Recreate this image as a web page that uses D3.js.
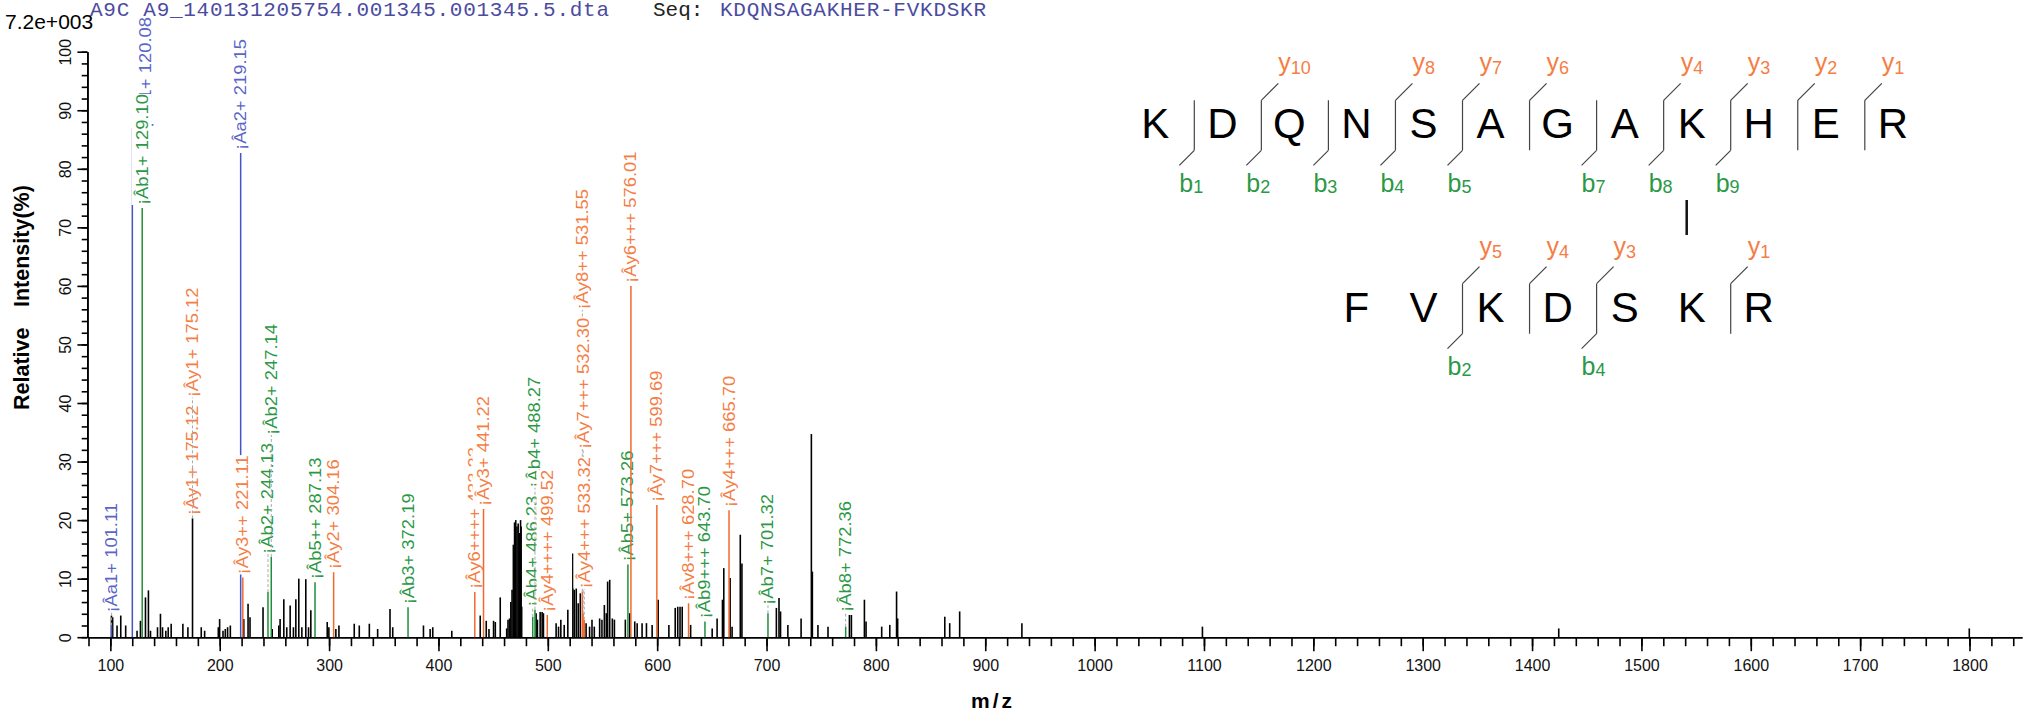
<!DOCTYPE html>
<html>
<head>
<meta charset="utf-8">
<script src="https://cdn.jsdelivr.net/npm/d3@7"></script>
<style>
  body { margin: 0; background: #fff; }
  svg { display: block; }
</style>
</head>
<body>
<div id="viz"></div>
<script>
// unmatched (black) peaks: m/z and relative intensity (%)
const peakMz = [101.0, 102.1, 106.1, 109.5, 114.0, 124.4, 127.5, 132.1, 134.8, 136.7,
  143.1, 145.8, 147.7, 150.7, 152.9, 155.6, 166.3, 170.9, 175.12, 183.1,
  186.2, 198.7, 199.9, 203.0, 205.1, 207.2, 209.7, 222.0, 225.9, 227.7,
  239.6, 248.0, 254.0, 255.2, 258.6, 261.3, 264.4, 267.4, 269.6, 272.3,
  275.1, 278.7, 281.2, 283.3, 298.3, 299.8, 306.2, 309.0, 323.0, 327.6,
  336.8, 344.4, 355.7, 358.2, 386.3, 392.4, 394.8, 412.2, 438.2, 443.7,
  446.2, 450.4, 452.0, 456.5, 462.4, 463.6, 465.0, 466.2, 467.3, 468.5,
  469.6, 470.7, 471.8, 472.9, 474.0, 475.1, 476.1, 489.3, 490.5, 493.0,
  494.8, 496.0, 507.6, 509.8, 511.9, 515.0, 518.3, 522.9, 524.2, 526.0,
  527.8, 529.7, 535.0, 538.2, 540.4, 542.5, 547.4, 549.5, 551.7, 553.5,
  554.7, 556.6, 559.0, 560.9, 570.9, 574.9, 579.5, 581.7, 586.2, 590.2,
  595.4, 600.9, 610.7, 616.5, 618.8, 620.9, 622.9, 630.6, 650.3, 654.8,
  659.7, 660.9, 666.7, 668.5, 676.0, 677.5, 709.0, 711.4, 712.8, 719.5,
  731.6, 741.0, 741.9, 747.0, 756.2, 775.8, 777.6, 789.5, 791.0, 805.3,
  812.7, 818.9, 819.9, 863.0, 867.5, 876.6, 933.5, 1098.6, 1424.4, 1799.8];
const peakInt = [3.7, 3.4, 2.0, 3.7, 2.0, 1.1, 2.8, 6.8, 8.0, 1.1,
  1.7, 4.0, 1.7, 1.1, 1.7, 2.3, 2.3, 1.7, 20.3, 1.7,
  1.1, 1.7, 3.1, 1.1, 1.4, 1.7, 2.0, 3.1, 5.7, 3.4,
  5.1, 1.4, 2.0, 3.1, 6.5, 1.7, 5.4, 1.7, 6.5, 10.0,
  1.7, 10.0, 1.7, 4.6, 2.6, 1.7, 1.4, 2.0, 2.3, 2.0,
  2.3, 1.4, 4.8, 1.7, 2.0, 1.4, 1.7, 1.1, 3.7, 2.8,
  1.4, 2.8, 2.6, 6.8, 1.5, 3.0, 3.2, 6.0, 8.1, 15.8,
  19.6, 20.0, 18.9, 19.4, 17.8, 20.0, 18.9, 4.1, 3.0, 4.4,
  4.4, 4.1, 2.4, 1.8, 3.0, 2.1, 4.7, 14.3, 8.1, 8.4,
  5.8, 7.5, 2.4, 1.8, 3.0, 1.8, 3.2, 3.0, 5.5, 4.1,
  9.5, 9.8, 3.2, 3.0, 3.0, 4.1, 2.7, 2.4, 2.4, 2.4,
  2.1, 6.4, 2.1, 5.0, 5.2, 5.2, 5.2, 2.1, 1.5, 3.2,
  6.4, 11.8, 10.1, 1.8, 17.5, 12.6, 5.0, 6.7, 4.4, 2.1,
  3.2, 34.7, 11.2, 2.1, 1.8, 3.8, 3.8, 6.4, 2.7, 1.8,
  2.1, 7.8, 3.2, 3.5, 2.4, 4.4, 2.4, 1.8, 1.5, 1.5];

// matched fragment ions
const ionMz = [101.11, 120.08, 129.10, 175.12, 175.12, 219.15, 221.11, 244.13, 247.14, 287.13,
  304.16, 372.19, 433.23, 441.22, 486.23, 488.27, 499.52, 531.55, 532.30, 533.32,
  573.26, 576.01, 599.69, 628.70, 643.70, 665.70, 701.32, 772.36];
const ionInt = [2.0, 100, 73.3, 20.3, 20.3, 82.7, 10.2, 7.7, 13.7, 9.4,
  11.1, 5.1, 7.7, 21.9, 3.5, 4.7, 3.8, 7.8, 4.1, 3.0,
  12.4, 60.0, 22.6, 5.8, 2.7, 21.7, 4.1, 1.8];
const ionType = ['a', 'a', 'b', 'y', 'y', 'a', 'y', 'b', 'b', 'b',
  'y', 'b', 'y', 'y', 'b', 'b', 'y', 'y', 'y', 'y',
  'b', 'y', 'y', 'y', 'b', 'y', 'b', 'b'];
const ionLabel = ['¡Âa1+ 101.11', '¡Âa1+ 120.08', '¡Âb1+ 129.10', '¡Ây1+ 175.12', '¡Ây1+ 175.12',
  '¡Âa2+ 219.15', '¡Ây3++ 221.11', '¡Âb2+ 244.13', '¡Âb2+ 247.14', '¡Âb5++ 287.13',
  '¡Ây2+ 304.16', '¡Âb3+ 372.19', '¡Ây6++++ 433.23', '¡Ây3+ 441.22', '¡Âb4+ 486.23',
  '¡Âb4+ 488.27', '¡Ây4++++ 499.52', '¡Ây8++ 531.55', '¡Ây7+++ 532.30', '¡Ây4+++ 533.32',
  '¡Âb5+ 573.26', '¡Ây6+++ 576.01', '¡Ây7+++ 599.69', '¡Ây8+++ 628.70', '¡Âb9+++ 643.70',
  '¡Ây4+++ 665.70', '¡Âb7+ 701.32', '¡Âb8+ 772.36'];

const xMajor = d3.range(100, 1801, 100);
const xMinor = d3.range(80, 1841, 20);
const yMajor = d3.range(0, 101, 10);
const yMinor = d3.range(0, 101, 2);

// peptide pair
const topSeq = 'KDQNSAGAKHER';
const bottomSeq = 'FVKDSKR';
const topB = [1, 2, 3, 4, 5, 7, 8, 9];
const topY = [10, 8, 7, 6, 4, 3, 2, 1];
const bottomB = [2, 4];
const bottomY = [5, 4, 3, 1];
const linkTop = 9, linkBottom = 6;

const fileName = 'A9C A9_140131205754.001345.001345.5.dta';
const seqText = 'KDQNSAGAKHER-FVKDSKR';
const baseIntensity = '7.2e+003';

const lineColor = { a: '#4455c4', b: '#1f8f3a', y: '#f2692e' };
const textColor = { a: '#5a66c8', b: '#2c9846', y: '#f47e45' };

function drawChart() {
  const width = 2024, height = 714;
  const svg = d3.select('#viz').append('svg')
    .attr('width', width)
    .attr('height', height)
    .style('font-family', 'Arial, "Liberation Sans", sans-serif');

  const x = d3.scaleLinear().domain([79, 1848]).range([87.4, 2022]);
  const y = d3.scaleLinear().domain([0, 100]).range([637.2, 51.7]);

  // header
  const mono = '"Liberation Mono", "Courier New", monospace';
  svg.append('text').attr('x', 90).attr('y', 16)
    .attr('textLength', 519).attr('lengthAdjust', 'spacing')
    .style('font-family', mono).style('font-size', '21px')
    .attr('fill', '#4b4ba0').text(fileName);
  svg.append('text').attr('x', 653).attr('y', 16)
    .style('font-family', mono).style('font-size', '21px')
    .attr('fill', '#222').text('Seq:');
  svg.append('text').attr('x', 720).attr('y', 16)
    .attr('textLength', 266).attr('lengthAdjust', 'spacing')
    .style('font-family', mono).style('font-size', '21px')
    .attr('fill', '#4b4ba0').text(seqText);
  svg.append('text').attr('x', 5).attr('y', 29).style('font-size', '21px').text(baseIntensity);

  // axes
  const xAxisMinor = svg.append('g').attr('transform', `translate(0,${y(0)})`)
    .call(d3.axisBottom(x).tickValues(xMinor).tickSize(9).tickSizeOuter(0).tickFormat(''));
  const xAxis = svg.append('g').attr('transform', `translate(0,${y(0)})`)
    .call(d3.axisBottom(x).tickValues(xMajor).tickSize(14).tickSizeOuter(0).tickFormat(d3.format('d')));
  xAxis.selectAll('text').attr('y', 33.5).attr('dy', 0)
    .style('font-size', '16px').style('font-family', 'Arial, "Liberation Sans", sans-serif').attr('fill', '#111');

  const yAxisMinor = svg.append('g').attr('transform', `translate(${x(79)},0)`)
    .call(d3.axisLeft(y).tickValues(yMinor).tickSize(5.7).tickSizeOuter(0).tickFormat(''));
  const yAxis = svg.append('g').attr('transform', `translate(${x(79)},0)`)
    .call(d3.axisLeft(y).tickValues(yMajor).tickSize(10).tickSizeOuter(0));
  yAxis.selectAll('text')
    .attr('transform', 'rotate(-90)')
    .attr('x', 0).attr('y', -16.2).attr('dy', 0)
    .attr('text-anchor', 'middle')
    .style('font-size', '16px').style('font-family', 'Arial, "Liberation Sans", sans-serif').attr('fill', '#111');

  [xAxisMinor, xAxis, yAxisMinor, yAxis].forEach(g => {
    g.selectAll('path, line').attr('stroke', '#000').attr('stroke-width', 1.6);
  });

  svg.append('text').attr('transform', 'translate(28.5,410) rotate(-90)')
    .style('font-size', '21.5px').style('font-weight', 'bold').text('Relative');
  svg.append('text').attr('transform', 'translate(28.5,307) rotate(-90)')
    .style('font-size', '21.5px').style('font-weight', 'bold').text('Intensity(%)');
  svg.append('text').attr('x', 993).attr('y', 708).attr('text-anchor', 'middle')
    .style('font-size', '21px').style('font-weight', 'bold').style('letter-spacing', '3px').text('m/z');

  // black peaks
  const peaks = peakMz.map((m, i) => ({ mz: m, v: peakInt[i] }));
  svg.append('g').selectAll('line')
    .data(peaks)
    .enter().append('line')
      .attr('x1', d => x(d.mz)).attr('x2', d => x(d.mz))
      .attr('y1', y(0)).attr('y2', d => y(d.v))
      .attr('stroke', '#000').attr('stroke-width', 1.6);

  // label geometry
  const labelSize = 16, stretch = 1.15, gap = 3, stackGap = 8;
  const baseShift = 5.5, cellLeft = 10.8;
  const probe = svg.append('text').style('font-size', labelSize + 'px');
  const ions = ionMz.map((m, i) => {
    probe.text(ionLabel[i]);
    return { mz: m, v: ionInt[i], type: ionType[i], text: ionLabel[i],
      len: probe.node().getComputedTextLength() * stretch };
  });
  probe.remove();

  ions.forEach(d => {
    d.px = x(d.mz);
    let b = y(d.v);
    peaks.forEach(p => {
      const dx = x(p.mz) - d.px;
      if (dx >= -1 && dx <= 8.5) b = Math.min(b, y(p.v));
    });
    d.bottom = b - gap;
    d.overflow = d.bottom - d.len < 0;
    d.bx = d.px + baseShift;
  });

  // stack labels that would sit on top of each other
  const normal = ions.filter(d => !d.overflow);
  const parent = normal.map((d, i) => i);
  const find = i => parent[i] === i ? i : (parent[i] = find(parent[i]));
  normal.forEach((a, i) => normal.forEach((b, j) => {
    if (j <= i) return;
    const overlapY = a.bottom - a.len < b.bottom && b.bottom - b.len < a.bottom;
    if (Math.abs(a.px - b.px) < 7 && overlapY) parent[find(i)] = find(j);
  }));
  const groups = d3.group(normal.map((d, i) => ({ d, g: find(i) })), e => e.g);
  groups.forEach(list => {
    const members = list.map(e => e.d).sort((p, q) => p.v - q.v || p.mz - q.mz);
    let cur = d3.min(members, m => m.bottom);
    members.forEach(m => { m.bottom = cur; cur -= m.len + stackGap; });
  });

  ions.filter(d => d.overflow).forEach(d => {
    d.bx = d.px + 18.5;
    d.bottom = 17 + d.len;
  });

  const matched = new Set(peakMz.map(m => m.toFixed(2)));
  const layer = svg.append('g');
  ions.slice().sort((p, q) => p.mz - q.mz).forEach(d => {
    if (!matched.has(d.mz.toFixed(2))) {
      layer.append('line')
        .attr('x1', d.px).attr('x2', d.px)
        .attr('y1', y(0)).attr('y2', y(d.v))
        .attr('stroke', lineColor[d.type]).attr('stroke-width', 1.5);
    }
    if (d.overflow) {
      layer.append('line')
        .attr('x1', d.px).attr('x2', d.px + 12)
        .attr('y1', y(d.v)).attr('y2', y(d.v))
        .attr('stroke', lineColor[d.type]).attr('stroke-width', 1.5);
    } else if (d.bottom < y(d.v) - gap - 1) {
      layer.append('line')
        .attr('x1', d.px).attr('x2', d.px)
        .attr('y1', y(d.v)).attr('y2', d.bottom)
        .attr('stroke', '#aaa').attr('stroke-width', 1)
        .attr('stroke-dasharray', '3,2');
    }
    // opaque text cell, wider on the glyph-top side like the original renderer
    const g = layer.append('g').attr('transform', `translate(${d.bx},${d.bottom}) rotate(-90)`);
    g.append('rect')
      .attr('x', 0).attr('y', -(d.bx - d.px + cellLeft))
      .attr('width', d.len).attr('height', d.bx - d.px + cellLeft + 4)
      .attr('fill', '#fff');
    g.append('text')
      .attr('transform', `scale(${stretch},1)`)
      .style('font-size', labelSize + 'px')
      .attr('fill', textColor[d.type])
      .text(d.text);
  });

  // peptide diagram
  const step = 67.05, x0 = 1155.3;
  const rows = [
    { seq: topSeq, offset: 0, base: 138.3, b: topB, yIons: topY },
    { seq: bottomSeq, offset: 3, base: 321.7, b: bottomB, yIons: bottomY }
  ];
  const diagram = svg.append('g');
  rows.forEach(r => {
    const n = r.seq.length;
    diagram.append('g').selectAll('text')
      .data(r.seq.split(''))
      .enter().append('text')
        .attr('x', (c, i) => x0 + (i + r.offset) * step)
        .attr('y', r.base)
        .attr('text-anchor', 'middle')
        .style('font-size', '42px')
        .text(c => c);

    const sepX = k => x0 + (k - 1 + r.offset) * step + 39;
    const cuts = new Set(r.b.concat(r.yIons.map(k => n - k)));
    cuts.forEach(k => {
      diagram.append('line')
        .attr('x1', sepX(k)).attr('x2', sepX(k))
        .attr('y1', r.base - 38).attr('y2', r.base + 12)
        .attr('stroke', '#444').attr('stroke-width', 1.2);
    });
    r.yIons.forEach(k => {
      const sx = sepX(n - k);
      diagram.append('line')
        .attr('x1', sx).attr('y1', r.base - 38)
        .attr('x2', sx + 17).attr('y2', r.base - 55)
        .attr('stroke', '#444').attr('stroke-width', 1.2);
      const t = diagram.append('text').attr('x', sx + 17).attr('y', r.base - 67)
        .attr('fill', textColor.y).style('font-size', '25px');
      t.append('tspan').text('y');
      t.append('tspan').attr('dy', 3).style('font-size', '18px').text(k);
    });
    r.b.forEach(k => {
      const sx = sepX(k);
      diagram.append('line')
        .attr('x1', sx).attr('y1', r.base + 12)
        .attr('x2', sx - 15).attr('y2', r.base + 27)
        .attr('stroke', '#444').attr('stroke-width', 1.2);
      const t = diagram.append('text').attr('x', sx - 15).attr('y', r.base + 53.5)
        .attr('fill', textColor.b).style('font-size', '25px');
      t.append('tspan').text('b');
      t.append('tspan').attr('dy', 1).style('font-size', '18px').text(k);
    });
  });
  const linkX = x0 + (linkTop - 1) * step - 5;
  diagram.append('line')
    .attr('x1', linkX).attr('x2', linkX)
    .attr('y1', 200).attr('y2', 235)
    .attr('stroke', '#111').attr('stroke-width', 2.5);
}

drawChart();
</script>
</body>
</html>
